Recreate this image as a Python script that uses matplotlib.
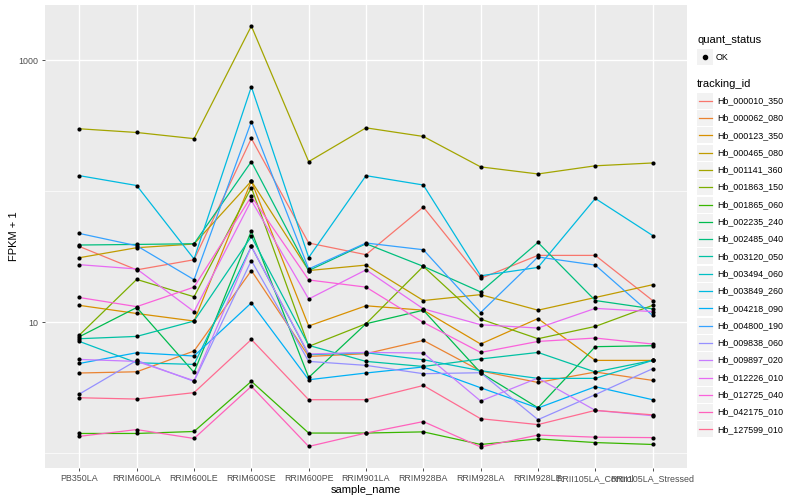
import numpy as np
import matplotlib
matplotlib.use("Agg")
import matplotlib.pyplot as plt
from matplotlib.patches import Rectangle
from matplotlib.lines import Line2D
from matplotlib.ticker import FixedLocator, NullFormatter, FixedFormatter

plt.rcParams['font.family'] = ['Liberation Sans', 'DejaVu Sans']

samples = ["PB350LA", "RRIM600LA", "RRIM600LE", "RRIM600SE", "RRIM600PE",
           "RRIM901LA", "RRIM928BA", "RRIM928LA", "RRIM928LE",
           "RRII105LA_Control", "RRII105LA_Stressed"]

tracking_ids = ["Hb_000010_350", "Hb_000062_080", "Hb_000123_350", "Hb_000465_080",
                "Hb_001141_360", "Hb_001863_150", "Hb_001865_060", "Hb_002235_240",
                "Hb_002485_040", "Hb_003120_050", "Hb_003494_060", "Hb_003849_260",
                "Hb_004218_090", "Hb_004800_190", "Hb_009838_060", "Hb_009897_020",
                "Hb_012226_010", "Hb_012725_040", "Hb_042175_010", "Hb_127599_010"]

hue_colors = ["#F8766D", "#EA8331", "#D89000", "#C09B00", "#A3A500", "#7CAE00",
              "#39B600", "#00BB4E", "#00BF7D", "#00C1A3", "#00BFC4", "#00BAE0",
              "#00B0F6", "#35A2FF", "#9590FF", "#C77CFF", "#E76BF3", "#FA62DB",
              "#FF62BC", "#FF6C91"]

# FPKM + 1 values per gene, in the order of `samples`
hb_000010_350 = [38.0, 25.2, 30.1, 254, 40.4, 32.9, 76.0, 21.7, 32.5, 32.5, 14.7]
hb_000062_080 = [4.11, 4.20, 6.05, 24.9, 5.50, 5.77, 7.29, 4.26, 3.48, 4.18, 3.61]
hb_000123_350 = [13.5, 11.7, 10.25, 120, 9.39, 13.4, 12.4, 6.84, 10.7, 5.13, 5.13]
hb_000465_080 = [31.2, 37.2, 39.7, 120, 24.9, 27.4, 14.7, 16.3, 12.4, 15.5, 19.4]
hb_001141_360 = [301, 282, 253, 1832, 169, 306, 263, 154, 136, 157, 165]
hb_001863_150 = [8.01, 21.3, 15.7, 107, 6.56, 9.77, 26.8, 10.6, 7.51, 9.32, 13.5]
hb_001865_060 = [1.42, 1.42, 1.47, 3.55, 1.43, 1.43, 1.46, 1.17, 1.29, 1.21, 1.17]
hb_002235_240 = [7.78, 13.0, 4.15, 49.9, 3.80, 9.77, 12.4, 4.13, 2.23, 6.53, 6.64]
hb_002485_040 = [39.0, 39.4, 39.9, 169, 24.9, 39.9, 26.8, 17.1, 40.8, 14.7, 12.7]
hb_003120_050 = [7.51, 7.82, 10.25, 45.3, 6.68, 5.04, 4.61, 5.26, 5.90, 4.18, 5.13]
hb_003494_060 = [7.16, 4.92, 4.78, 38.0, 5.67, 5.87, 5.19, 4.28, 3.74, 3.74, 5.13]
hb_003849_260 = [132, 111, 30.5, 630, 31.3, 132, 112, 22.7, 26.3, 88.4, 46.1]
hb_004218_090 = [4.86, 5.87, 5.54, 14.1, 3.65, 4.11, 4.57, 3.17, 2.22, 3.23, 2.57]
hb_004800_190 = [47.8, 38.5, 21.2, 342, 25.6, 40.4, 35.9, 11.9, 31.6, 27.4, 11.3]
hb_009838_060 = [2.84, 5.13, 3.55, 29.7, 5.04, 4.70, 4.06, 4.13, 1.81, 2.81, 4.43]
hb_009897_020 = [5.22, 5.04, 3.59, 38.0, 5.74, 5.90, 5.84, 2.51, 3.76, 2.13, 1.94]
hb_012226_010 = [27.6, 25.6, 12.1, 85.4, 15.1, 25.2, 12.7, 9.6, 9.06, 12.8, 12.1]
hb_012725_040 = [15.5, 13.2, 18.6, 91.6, 21.1, 18.6, 10.0, 5.90, 7.16, 7.60, 6.84]
hb_042175_010 = [1.35, 1.52, 1.30, 3.25, 1.13, 1.43, 1.75, 1.12, 1.38, 1.33, 1.32]
hb_127599_010 = [2.66, 2.60, 2.91, 7.41, 2.57, 2.57, 3.30, 1.84, 1.66, 2.13, 1.97]

series = [hb_000010_350, hb_000062_080, hb_000123_350, hb_000465_080, hb_001141_360,
          hb_001863_150, hb_001865_060, hb_002235_240, hb_002485_040, hb_003120_050,
          hb_003494_060, hb_003849_260, hb_004218_090, hb_004800_190, hb_009838_060,
          hb_009897_020, hb_012226_010, hb_012725_040, hb_042175_010, hb_127599_010]

W, H = 800, 500
fig = plt.figure(figsize=(W / 100, H / 100), dpi=100)
fig.patch.set_facecolor("white")

def fx(px):
    return px / W

def fy(py):
    return 1 - py / H

ax = fig.add_axes([fx(45), fy(468), fx(687) - fx(45), fy(5) - fy(468)])
ax.set_facecolor("#EBEBEB")
for s in ax.spines.values():
    s.set_visible(False)

x = np.arange(len(samples))
for vals, col in zip(series, hue_colors):
    ax.plot(x, vals, color=col, lw=0.9, zorder=2, solid_capstyle="butt")
for vals in series:
    ax.scatter(x, vals, s=9, color="black", zorder=3, linewidths=0)

ax.set_yscale("log")
allv = np.log10(np.concatenate([np.array(v, float) for v in series]))
lo, hi = allv.min(), allv.max()
r = hi - lo
ax.set_ylim(10 ** (lo - 0.05 * r), 10 ** (hi + 0.05 * r))
ax.set_xlim(-0.6, len(samples) - 1 + 0.6)

ax.yaxis.set_major_locator(FixedLocator([10, 1000]))
ax.yaxis.set_major_formatter(FixedFormatter(["10", "1000"]))
ax.yaxis.set_minor_locator(FixedLocator([1, 100]))
ax.yaxis.set_minor_formatter(NullFormatter())
ax.set_xticks(x)
ax.set_xticklabels(samples)

ax.grid(True, which="major", color="white", lw=1.0, zorder=0)
ax.grid(True, which="minor", axis="y", color="white", lw=0.5, zorder=0)
ax.set_axisbelow(True)

ax.tick_params(axis="both", which="major", length=2.5, width=0.6, color="#333333",
               labelsize=6.4, labelcolor="#4D4D4D", pad=2)
ax.tick_params(axis="y", which="minor", length=0)

ax.set_xlabel("sample_name", fontsize=8, color="black", labelpad=1)
ax.set_ylabel("FPKM + 1", fontsize=8, color="black", labelpad=0)

# ---- legends (drawn ggplot-style) ----
key_w = 16
kx = 697
fig.text(fx(kx), fy(40), "quant_status", fontsize=8, va="center", ha="left")
fig.add_artist(Rectangle((fx(kx), fy(65)), key_w / W, key_w / H,
                         transform=fig.transFigure, facecolor="#F2F2F2", edgecolor="none"))
fig.add_artist(Line2D([fx(kx + key_w / 2)], [fy(57)], marker="o", markersize=3,
                      color="black", linestyle="none", transform=fig.transFigure))
fig.text(fx(716), fy(57), "OK", fontsize=6.4, va="center", ha="left")

fig.text(fx(kx), fy(84), "tracking_id", fontsize=8, va="center", ha="left")
y0 = 100.7
dy = 17.3
for i, (tid, col) in enumerate(zip(tracking_ids, hue_colors)):
    cy = y0 + i * dy
    fig.add_artist(Rectangle((fx(kx), fy(cy + key_w / 2)), key_w / W, key_w / H,
                             transform=fig.transFigure, facecolor="#F2F2F2",
                             edgecolor="none"))
    fig.add_artist(Line2D([fx(kx + 1.5), fx(kx + key_w - 1.5)], [fy(cy), fy(cy)],
                          color=col, lw=0.9, transform=fig.transFigure))
    fig.text(fx(717), fy(cy), tid, fontsize=6.4, va="center", ha="left")

fig.savefig("out.png", dpi=100)
